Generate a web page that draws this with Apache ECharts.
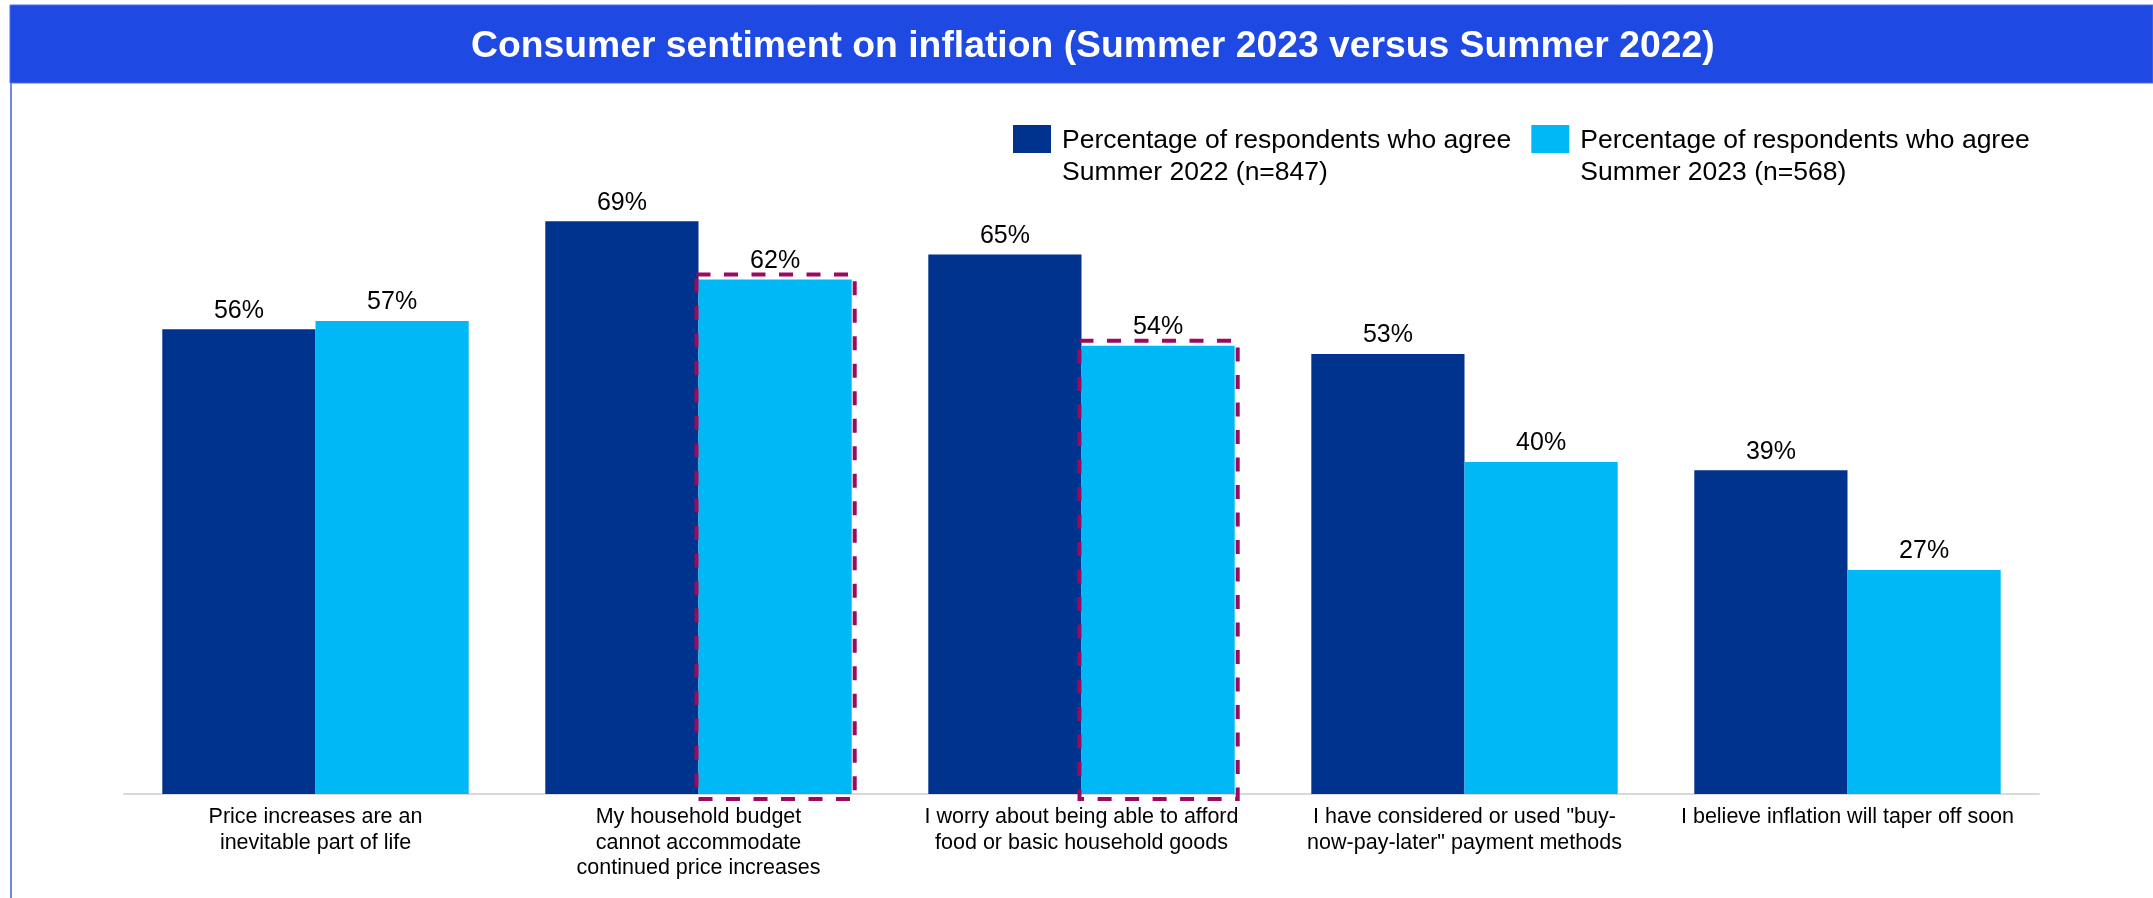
<!DOCTYPE html>
<html>
<head>
<meta charset="utf-8">
<script src="https://cdn.jsdelivr.net/npm/echarts@6/dist/echarts.min.js"></script>
<style>
html,body{margin:0;padding:0;background:#fff;}
#chart{width:2153px;height:898px;}
</style>
</head>
<body>
<div id="chart"></div>
<script>
const titleText = 'Consumer sentiment on inflation (Summer 2023 versus Summer 2022)';
const categories = [
  'Price increases are an\ninevitable part of life',
  'My household budget\ncannot accommodate\ncontinued price increases',
  'I worry about being able to afford\nfood or basic household goods',
  'I have considered or used "buy-\nnow-pay-later" payment methods',
  'I believe inflation will taper off soon'
];
const seriesNames = [
  'Percentage of respondents who agree\nSummer 2022 (n=847)',
  'Percentage of respondents who agree\nSummer 2023 (n=568)'
];
const values2022 = [56, 69, 65, 53, 39];
const values2023 = [57, 62, 54, 40, 27];
const highlighted2023 = [1, 2]; // category indices boxed with dashed outline

const FONT = '"Liberation Sans", Arial, sans-serif';
const chart = echarts.init(document.getElementById('chart'), null, {renderer: 'canvas'});

const option = {
  backgroundColor: '#ffffff',
  animation: false,
  graphic: [
    {type: 'rect', z: 0, shape: {x: 10, y: 5, width: 2143, height: 78}, style: {fill: '#1E49E2', stroke: '#4F6FEA', lineWidth: 1}},
    {type: 'rect', z: 0, shape: {x: 10, y: 83, width: 2, height: 815}, style: {fill: '#6E87EE'}}
  ],
  title: {
    text: titleText,
    left: 471,
    top: 28,
    padding: 0,
    textStyle: {color: '#ffffff', fontFamily: FONT, fontWeight: 'bold', fontSize: 37.3}
  },
  legend: {
    data: seriesNames,
    left: 1013,
    top: 89,
    padding: 0,
    itemWidth: 38,
    itemHeight: 28,
    itemGap: 20,
    icon: 'rect',
    selectedMode: false,
    formatter: function (name) { return '{gap| }\n' + name; },
    textStyle: {
      color: '#000', fontFamily: FONT, fontSize: 26.5, lineHeight: 32, padding: [0, 0, 0, 6],
      rich: {gap: {fontSize: 10, lineHeight: 36}}
    }
  },
  grid: {left: 124, right: 114, top: 130, bottom: 104, containLabel: false},
  xAxis: {
    type: 'category',
    data: categories,
    axisLine: {show: true, lineStyle: {color: '#d9d9d9', width: 2}},
    axisTick: {show: false},
    axisLabel: {interval: 0, color: '#000', fontFamily: FONT, fontSize: 21.5, lineHeight: 25.8, margin: 10, align: 'center'}
  },
  yAxis: {type: 'value', min: 0, max: 80, show: false, splitLine: {show: false}},
  series: [
    {
      name: seriesNames[0], type: 'bar', data: values2022,
      barGap: '0%', barCategoryGap: '20%',
      itemStyle: {color: '#00338D'},
      label: {show: true, position: 'top', distance: 6, formatter: '{c}%', color: '#000', fontFamily: FONT, fontSize: 25}
    },
    {
      name: seriesNames[1], type: 'bar', data: values2023,
      barGap: '0%', barCategoryGap: '20%',
      itemStyle: {color: '#00B8F5'},
      label: {show: true, position: 'top', distance: 6, formatter: '{c}%', color: '#000', fontFamily: FONT, fontSize: 25}
    },
    {
      name: 'highlight', type: 'custom', z: 5, silent: true,
      data: highlighted2023.map(i => [i, values2023[i]]),
      renderItem: function (params, api) {
        const ci = api.value(0), v = api.value(1);
        const topPt = api.coord([ci, v]);
        const basePt = api.coord([ci, 0]);
        const band = api.size([1, 0])[0];
        const barW = band * 0.8 / 2;
        return {
          type: 'rect',
          shape: {x: topPt[0] - 2, y: topPt[1] - 5, width: barW + 5, height: basePt[1] - topPt[1] + 10},
          style: {fill: null, stroke: '#9B0A5E', lineWidth: 4, lineDash: [14, 13.5]}
        };
      }
    }
  ]
};
chart.setOption(option);
</script>
</body>
</html>
